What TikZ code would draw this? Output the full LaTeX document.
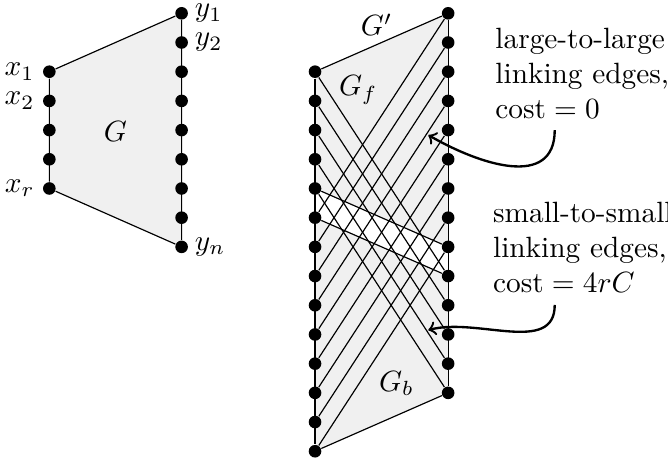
\documentclass[tikz,border=0pt]{standalone}
\usetikzlibrary{backgrounds}

\tikzset{
  vtx/.style={circle, fill=black, inner sep=0pt, minimum size=4.3pt},
  gfill/.style={fill=gray!12},
  note/.style={align=left, inner sep=0pt, anchor=base west},
}

\begin{document}
\begin{tikzpicture}[x=0.35cm, y=0.35cm]
    \useasboundingbox (0,0.455) rectangle (22.88,-15.26);
    % the graph G
    \foreach \i in {1,...,5} \node[vtx] (x\i) at (1.69,{-\i-1}) {};
    \foreach \i in {1,...,9} \node[vtx] (y\i) at (6.22,{-\i+1}) {};
    \node[anchor=east, inner sep=2.5pt] (lx1) at (x1.west) {$x_1$};
    \node[anchor=east, inner sep=2.5pt] (lx2) at (x2.west) {$x_2$};
    \node[anchor=east, inner sep=2.5pt] (lxr) at (x5.west) {$x_r$};
    \node[anchor=west, inner sep=2pt] (ly1) at (y1.east) {$y_1$};
    \node[anchor=west, inner sep=2pt] (ly2) at (y2.east) {$y_2$};
    \node[anchor=west, inner sep=2pt] (lyn) at (y9.east) {$y_n$};
    \node (G) at (3.95,-4.05) {$G$};
    \draw (x1) -- (x5) (y1) -- (y9) (x1) -- (y1) (x5) -- (y9);
    % the graph G'
    \foreach \i in {2,...,15} \node[vtx] (l\i) at (10.79,-\i) {};
    \foreach \i in {0,...,13} \node[vtx] (r\i) at (15.35,-\i) {};
    \node (Gp) at (12.9,-0.4) {$G'$};
    \node (Gf) at (12.27,-2.63) {$G_f$};
    \node (Gb) at (13.58,-12.67) {$G_b$};
    \draw (l2) -- (l15) (r0) -- (r13);
    \draw (l2) -- (r0) (l6) -- (r8) (l7) -- (r9) (l15) -- (r13);
    % linking edges
    \foreach \i in {2,...,6} {\pgfmathtruncatemacro\j{\i+7} \draw (l\i) -- (r\j);}
    \foreach \i in {0,...,8} {\pgfmathtruncatemacro\j{\i+7} \draw (r\i) -- (l\j);}
    \begin{scope}[on background layer]
      \fill[gfill] (x1.center) -- (y1.center) -- (y9.center) -- (x5.center) -- cycle;
      \fill[gfill] (l2.center) -- (r0.center) -- (r8.center) -- (l6.center) -- cycle;
      \fill[gfill] (l7.center) -- (r9.center) -- (r13.center) -- (l15.center) -- cycle;
    \end{scope}
    % notes
    \node[note] (large) at (16.95,-3.62) {large-to-large\\linking edges,\\cost${}=0$};
    \node[note] (small) at (16.87,-9.57) {small-to-small\\linking edges,\\cost${}=4rC$};
    \coordinate (la) at (19,-4.0);
    \coordinate (lb) at (14.67,-4.17);
    \coordinate (sa) at (19,-9.99);
    \coordinate (sb) at (14.67,-10.85);
    \draw[->, thick] (la) to[out=-90, in=-30, looseness=1.2] (lb);
    \draw[->, thick] (sa) to[out=-90, in=15] (sb);
\end{tikzpicture}
\end{document}
